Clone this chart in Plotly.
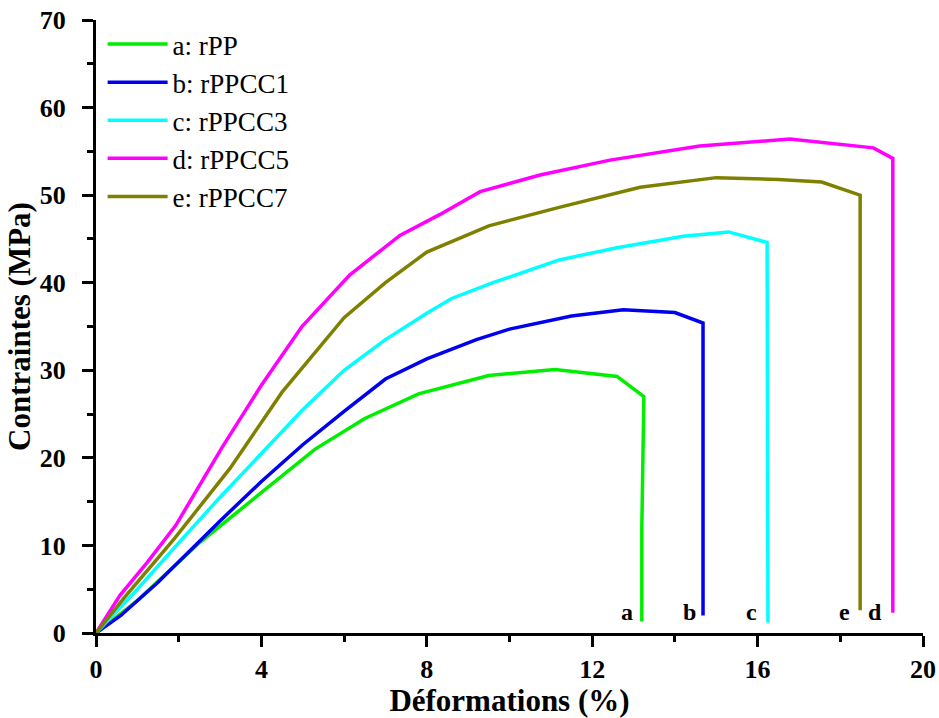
import plotly.graph_objects as go

# Data (strain %, stress MPa)
a_x = [0, 0.5, 1.0, 2.5, 4.0, 5.3, 6.5, 7.8, 9.5, 11.1, 12.6, 13.25, 13.2, 13.2]
a_y = [0, 1.8, 3.7, 10.3, 16.0, 21.0, 24.5, 27.3, 29.4, 30.1, 29.3, 27.0, 12.0, 1.3]

b_x = [0, 0.6, 1.5, 2.5, 3.0, 4.0, 5.0, 6.0, 7.0, 8.0, 9.2, 10.0, 11.5, 12.75, 14.0, 14.68, 14.68]
b_y = [0, 2.0, 5.8, 10.5, 12.8, 17.3, 21.5, 25.3, 29.0, 31.3, 33.5, 34.7, 36.2, 36.9, 36.6, 35.4, 2.0]

c_x = [0, 1.0, 2.0, 3.0, 4.0, 5.0, 6.0, 7.0, 8.0, 8.6, 9.6, 11.2, 12.6, 14.2, 15.3, 16.23, 16.25]
c_y = [0, 5.0, 10.3, 15.5, 20.5, 25.5, 30.0, 33.5, 36.5, 38.2, 40.0, 42.6, 44.0, 45.3, 45.8, 44.6, 1.2]

d_x = [0, 0.58, 1.23, 1.93, 3.05, 4.0, 4.98, 6.14, 7.35, 8.32, 9.29, 10.74, 12.43, 14.6, 16.78, 18.8, 19.27, 19.27]
d_y = [0, 4.3, 8.0, 12.3, 21.2, 28.3, 35.0, 40.9, 45.4, 47.8, 50.4, 52.3, 54.0, 55.6, 56.4, 55.4, 54.2, 2.3]

e_x = [0, 0.68, 1.9, 3.24, 4.5, 5.3, 6.0, 7.0, 8.0, 9.5, 11.2, 13.16, 15.0, 16.5, 17.55, 18.48, 18.48]
e_y = [0, 4.0, 10.8, 18.8, 27.5, 32.0, 36.0, 40.0, 43.5, 46.5, 48.6, 50.9, 52.0, 51.8, 51.5, 50.0, 2.6]

names = ["a: rPP", "b: rPPCC1", "c: rPPCC3", "d: rPPCC5", "e: rPPCC7"]
colors = ["#00ee00", "#0000ee", "#00ffff", "#ff00ff", "#808000"]

end_labels = ["a", "b", "c", "e", "d"]
end_label_x = [12.85, 14.35, 15.85, 18.1, 18.85]
end_label_y = [2.4, 2.4, 2.4, 2.4, 2.4]

FONT = "Liberation Serif, Times New Roman, serif"

fig = go.Figure()
for xs, ys, n, c in zip([a_x, b_x, c_x, d_x, e_x], [a_y, b_y, c_y, d_y, e_y], names, colors):
    fig.add_trace(go.Scatter(x=xs, y=ys, mode="lines", name=n,
                             line=dict(color=c, width=3.5)))

for t, x, y in zip(end_labels, end_label_x, end_label_y):
    fig.add_annotation(x=x, y=y, text="<b>%s</b>" % t, showarrow=False,
                       font=dict(family=FONT, size=24, color="black"),
                       xanchor="center", yanchor="middle")

axis_common = dict(
    showline=True, linecolor="black", linewidth=3,
    ticks="outside", ticklen=11, tickwidth=3, tickcolor="black",
    showgrid=False, zeroline=False, mirror=False, automargin=False,
    tickfont=dict(family=FONT, size=26, color="black"),
)

fig.update_layout(
    width=939, height=718,
    paper_bgcolor="white", plot_bgcolor="white",
    margin=dict(l=96, r=16, t=20, b=85),
    font=dict(family=FONT, color="black"),
    xaxis=dict(range=[0, 20], dtick=4, tick0=0, ticklabelstandoff=0,
               minor=dict(dtick=2, ticklen=6, tickwidth=3, tickcolor="black", ticks="outside"),
               title=dict(text="<b>Déformations (%)</b>", font=dict(family=FONT, size=31), standoff=0),
               **axis_common),
    yaxis=dict(range=[0, 70], dtick=10, tick0=0, ticklabelstandoff=11,
               minor=dict(dtick=5, ticklen=6, tickwidth=3, tickcolor="black", ticks="outside"),
               title=dict(text="<b>Contraintes (MPa)</b>", font=dict(family=FONT, size=31), standoff=0),
               **axis_common),
    legend=dict(x=0.008, y=1.0, xanchor="left", yanchor="top",
                bgcolor="rgba(0,0,0,0)", font=dict(family=FONT, size=27),
                tracegroupgap=0, itemwidth=60),
    showlegend=True,
)
fig.update_xaxes(tickprefix="<b>", ticksuffix="</b>")
fig.update_yaxes(tickprefix="<b>", ticksuffix="</b>")

fig.write_html("out.html", config={"displayModeBar": False},
               post_script="document.body.style.margin='0';document.body.style.overflow='hidden';")
